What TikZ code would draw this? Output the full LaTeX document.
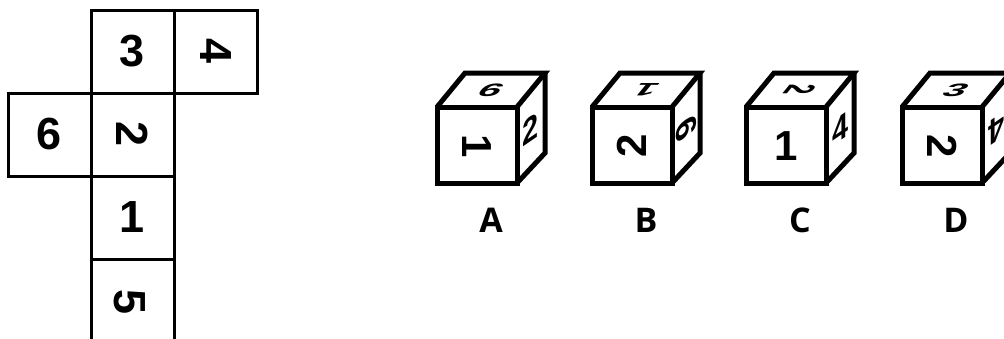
\documentclass[tikz,border=0pt]{standalone}
\usepackage{fontspec}
\newfontfamily\digitfont{Liberation Sans}
\newfontfamily\labelfont{Open Sans}
\begin{document}
\begin{tikzpicture}[x=1pt,y=-1pt,
  netcell/.style={draw, line width=3pt, minimum size=83pt, inner sep=0pt,
    font=\digitfont\bfseries\fontsize{45}{45}\selectfont},
  netline/.style={line width=3pt},
  netdigit/.style={inner sep=0pt, font=\digitfont\bfseries\fontsize{45}{45}\selectfont},
  cubeline/.style={line width=5pt, line join=miter},
  frontdigit/.style={inner sep=0pt, font=\digitfont\bfseries\fontsize{42}{42}\selectfont},
  topdigit/.style={inner sep=0pt, transform shape, font=\digitfont\bfseries\fontsize{40}{40}\selectfont},
  sidedigit/.style={inner sep=0pt, transform shape, font=\digitfont\bfseries\fontsize{36}{36}\selectfont},
  letterlbl/.style={inner sep=0pt, font=\labelfont\bfseries\fontsize{34}{34}\selectfont}
]
\useasboundingbox (0,0) rectangle (1004,338);
% ---- net ----
\node[netcell] (n3) at (132.5,51.5) {3};
\node[netcell, rotate=-90] (n4) at (215.5,51.5) {4};
\node[netcell] (n6) at (49.5,134.5) {6};
\node[netcell, rotate=-90] (n2) at (132.5,134.5) {2};
\node[netcell] (n1) at (132.5,217.5) {1};
\coordinate (b5l) at (91,259);
\coordinate (b5r) at (174,259);
\coordinate (e5l) at (91,345);
\coordinate (e5r) at (174,345);
\draw[netline] (b5l) -- (e5l);
\draw[netline] (b5r) -- (e5r);
\node[netdigit, rotate=-90] (n5) at (130,302) {5};
% ---- cubes ----
\foreach \x/\n/\lb/\ta/\ra/\tb/\rb/\tc/\rc in
  {437/a/A/6/0/1/-90/2/0,
   592/b/B/1/180/2/90/6/-90,
   746/c/C/2/-90/1/0/4/0,
   902/d/D/3/0/2/-90/4/180}{
  \draw[cubeline] (\x,107) rectangle ++(80,76);
  \draw[cubeline] (\x,107) -- ++(28,-34) -- ++(80,0) -- ++(-28,34);
  \draw[cubeline] (\x+108,73) -- (\x+108,153) -- (\x+80,183);
  \node[frontdigit, rotate=\rb] (\n-front) at (\x+40,146) {\tb};
  \begin{scope}[shift={(\x+54,90)}, cm={1,0,0.37,0.45,(0,0)}]
    \node[topdigit, rotate=\ra] (\n-top) at (0,0) {\ta};
  \end{scope}
  \begin{scope}[shift={(\x+94,129)}, cm={0.8,0.55,0,1,(0,0)}]
    \node[sidedigit, rotate=\rc] (\n-side) at (0,0) {\tc};
  \end{scope}
  \node[letterlbl] (\n-lbl) at (\x+54,220) {\lb};
}
\end{tikzpicture}
\end{document}
